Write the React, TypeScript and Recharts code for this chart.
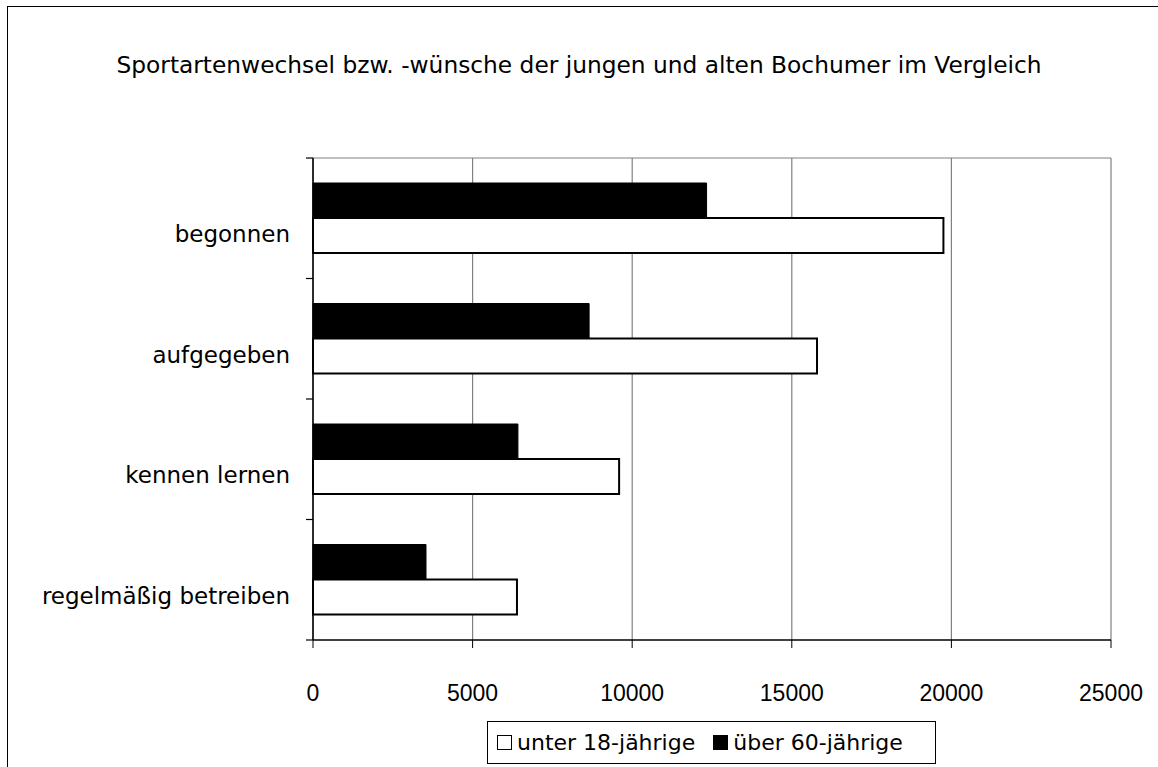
import React from "react";
import {
  BarChart,
  Bar,
  XAxis,
  YAxis,
  CartesianGrid,
  ReferenceLine,
} from "recharts";

const categories = ["begonnen", "aufgegeben", "kennen lernen", "regelmäßig betreiben"];
const unter18 = [19750, 15790, 9590, 6390];
const ueber60 = [12330, 8650, 6420, 3540];
const xTicks = [0, 5000, 10000, 15000, 20000, 25000];

const TITLE = "Sportartenwechsel bzw. -wünsche der jungen und alten Bochumer im Vergleich";
const LABEL_FONT = "'DejaVu Sans', sans-serif";
const NUM_FONT = "'Liberation Sans', Arial, sans-serif";
const Y_TICK = 7;
const Y_GAP = 16;

const data = categories.map((name, i) => ({
  name,
  unter18: unter18[i],
  ueber60: ueber60[i],
}));

// category label + Excel-style tick marks on the band edges
function CategoryTick(props: any) {
  const { x, y, payload, index, visibleTicksCount } = props;
  const half = payload?.offset ?? 0;
  const ax = x + Y_TICK + Y_GAP;
  const last = index === visibleTicksCount - 1;
  return (
    <g>
      {half > 0 && (
        <line x1={ax - Y_TICK} x2={ax} y1={y - half} y2={y - half} stroke="#000" strokeWidth={1.2} />
      )}
      {half > 0 && last && (
        <line x1={ax - Y_TICK} x2={ax} y1={y + half} y2={y + half} stroke="#000" strokeWidth={1.2} />
      )}
      <text
        x={x}
        y={y + 16}
        textAnchor="end"
        dominantBaseline="central"
        fontFamily={LABEL_FONT}
        fontSize={23}
        fill="#000"
      >
        {payload.value}
      </text>
    </g>
  );
}

function LegendBox() {
  const sq = { display: "inline-block", width: 13, height: 13, border: "1.5px solid #000", marginRight: 5 };
  return (
    <div
      style={{
        position: "absolute",
        left: 487,
        top: 721,
        width: 449,
        height: 43,
        border: "1px solid #000",
        display: "flex",
        alignItems: "center",
        paddingLeft: 9,
        boxSizing: "border-box",
        fontFamily: LABEL_FONT,
        fontSize: 22,
        whiteSpace: "nowrap",
      }}
    >
      <span style={{ ...sq, background: "#fff" }} />
      <span style={{ marginRight: 18 }}>unter 18-jährige</span>
      <span style={{ ...sq, background: "#000" }} />
      <span>über 60-jährige</span>
    </div>
  );
}

export default function App() {
  return (
    <div
      style={{
        position: "absolute",
        left: 0,
        top: 0,
        width: 1158,
        height: 767,
        overflow: "hidden",
        background: "#fff",
      }}
    >
      <div
        style={{
          position: "absolute",
          left: 7,
          top: 6,
          width: 1200,
          height: 800,
          borderLeft: "1.5px solid #000",
          borderTop: "1.5px solid #000",
        }}
      />
      <div
        style={{
          position: "absolute",
          left: 0,
          top: 51,
          width: 1158,
          textAlign: "center",
          fontFamily: LABEL_FONT,
          fontSize: 23.3,
          whiteSpace: "nowrap",
        }}
      >
        {TITLE}
      </div>
      <div style={{ position: "absolute", left: 0, top: 0 }}>
        <BarChart
          width={1158}
          height={767}
          data={data}
          layout="vertical"
          margin={{ top: 158, right: 47, bottom: 67, left: 8 }}
          barCategoryGap={25}
          barGap={0}
        >
          <CartesianGrid
            horizontal={false}
            stroke="#808080"
            strokeWidth={1.2}
          />
          <XAxis
            type="number"
            domain={[0, 25000]}
            ticks={xTicks}
            interval={0}
            height={60}
            tickSize={8}
            tickMargin={37}
            axisLine={{ stroke: "#000", strokeWidth: 1.5 }}
            tickLine={{ stroke: "#000" }}
            tick={{ fill: "#000", fontSize: 23, fontFamily: NUM_FONT }}
          />
          <YAxis
            yAxisId="cat"
            type="category"
            dataKey="name"
            width={305}
            axisLine={{ stroke: "#000", strokeWidth: 1.5 }}
            tickLine={false}
            tickSize={Y_TICK}
            tickMargin={Y_GAP}
            tick={<CategoryTick />}
            interval={0}
          />
          <ReferenceLine
            yAxisId="cat"
            y={categories[0]}
            position="start"
            stroke="#808080"
            strokeWidth={1.2}
            ifOverflow="visible"
          />
          <Bar
            yAxisId="cat"
            dataKey="ueber60"
            name="über 60-jährige"
            fill="#000"
            stroke="#000"
            strokeWidth={1}
            isAnimationActive={false}
          />
          <Bar
            yAxisId="cat"
            dataKey="unter18"
            name="unter 18-jährige"
            fill="#fff"
            stroke="#000"
            strokeWidth={2}
            isAnimationActive={false}
          />
        </BarChart>
      </div>
      <LegendBox />
    </div>
  );
}
